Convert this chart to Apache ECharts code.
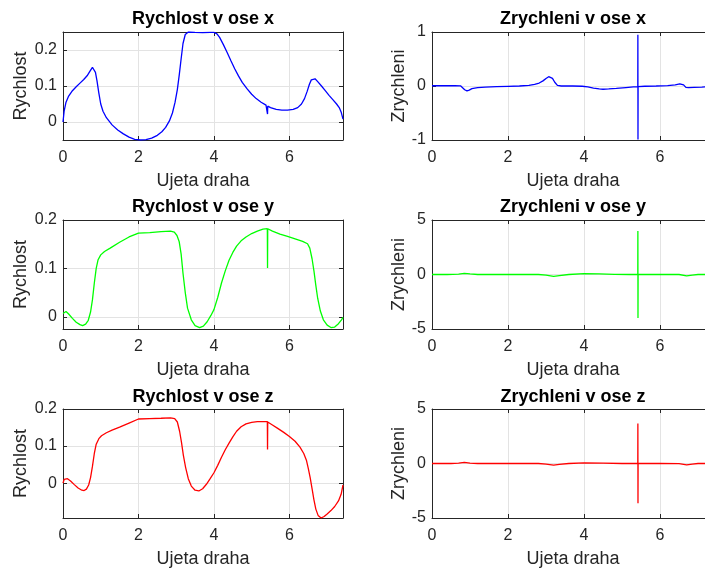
<!DOCTYPE html>
<html>
<head>
<meta charset="utf-8">
<script src="https://cdn.jsdelivr.net/npm/echarts@6/dist/echarts.min.js"></script>
<style>
  html, body { margin: 0; padding: 0; background: #ffffff; }
  #chart { width: 705px; height: 571px; }
</style>
</head>
<body>
<div id="chart"></div>
<script>
// Distance travelled vs. velocity / acceleration along each axis: [distance, value]
const rychlostX = [[0,0],[0.03,0.03],[0.08,0.055],[0.15,0.072],[0.25,0.087],[0.35,0.098],[0.45,0.108],[0.55,0.118],[0.65,0.13],[0.72,0.142],[0.78,0.152],[0.82,0.15],[0.86,0.138],[0.9,0.115],[0.95,0.08],[1.0,0.05],[1.06,0.03],[1.15,0.012],[1.3,-0.008],[1.45,-0.022],[1.6,-0.033],[1.75,-0.042],[1.9,-0.048],[2.05,-0.05],[2.2,-0.049],[2.35,-0.045],[2.5,-0.037],[2.62,-0.027],[2.72,-0.015],[2.82,0.003],[2.9,0.025],[2.97,0.055],[3.03,0.09],[3.08,0.13],[3.13,0.175],[3.18,0.218],[3.24,0.243],[3.32,0.25],[3.5,0.249],[3.7,0.248],[3.9,0.249],[4.0,0.249],[4.08,0.245],[4.15,0.235],[4.25,0.215],[4.35,0.193],[4.45,0.17],[4.55,0.148],[4.65,0.128],[4.75,0.11],[4.88,0.092],[5.0,0.077],[5.12,0.065],[5.25,0.055],[5.38,0.047],[5.415,0.045],[5.42,0.022],[5.425,0.044],[5.5,0.04],[5.65,0.035],[5.8,0.033],[5.95,0.033],[6.1,0.035],[6.22,0.04],[6.32,0.05],[6.4,0.065],[6.47,0.085],[6.53,0.105],[6.58,0.117],[6.63,0.122],[6.68,0.12],[6.75,0.112],[6.85,0.1],[6.95,0.087],[7.05,0.074],[7.15,0.062],[7.25,0.05],[7.32,0.04],[7.37,0.028],[7.42,0.008]];

const rychlostY = [[0,0.007],[0.04,0.011],[0.08,0.011],[0.15,0.006],[0.25,-0.003],[0.35,-0.011],[0.45,-0.016],[0.52,-0.018],[0.6,-0.015],[0.67,-0.007],[0.73,0.01],[0.78,0.035],[0.83,0.07],[0.88,0.1],[0.93,0.118],[1.0,0.128],[1.1,0.135],[1.25,0.142],[1.5,0.154],[1.75,0.165],[2.0,0.173],[2.3,0.174],[2.6,0.176],[2.85,0.177],[2.95,0.175],[3.02,0.168],[3.08,0.155],[3.13,0.13],[3.18,0.09],[3.24,0.05],[3.3,0.018],[3.4,-0.006],[3.5,-0.018],[3.62,-0.022],[3.72,-0.019],[3.82,-0.01],[3.92,0.003],[4.0,0.015],[4.1,0.04],[4.2,0.07],[4.3,0.095],[4.4,0.117],[4.5,0.133],[4.6,0.146],[4.72,0.157],[4.85,0.165],[5.0,0.172],[5.15,0.177],[5.3,0.181],[5.415,0.182],[5.42,0.101],[5.425,0.182],[5.55,0.177],[5.75,0.171],[5.95,0.166],[6.15,0.161],[6.35,0.156],[6.48,0.151],[6.54,0.142],[6.6,0.12],[6.65,0.095],[6.7,0.065],[6.75,0.038],[6.82,0.012],[6.9,-0.006],[7.0,-0.017],[7.1,-0.022],[7.2,-0.021],[7.3,-0.014],[7.38,-0.006],[7.42,-0.001]];

const rychlostZ = [[0,0],[0.03,0.01],[0.07,0.014],[0.12,0.012],[0.2,0.006],[0.3,-0.004],[0.4,-0.013],[0.5,-0.019],[0.56,-0.02],[0.62,-0.016],[0.68,-0.005],[0.73,0.015],[0.78,0.045],[0.83,0.08],[0.88,0.105],[0.95,0.12],[1.02,0.128],[1.15,0.136],[1.3,0.143],[1.5,0.151],[1.75,0.162],[2.0,0.173],[2.3,0.174],[2.6,0.175],[2.85,0.176],[2.96,0.174],[3.03,0.165],[3.09,0.14],[3.14,0.11],[3.19,0.075],[3.25,0.042],[3.32,0.012],[3.4,-0.008],[3.5,-0.019],[3.6,-0.021],[3.7,-0.015],[3.8,-0.003],[3.9,0.012],[4.0,0.028],[4.1,0.048],[4.2,0.07],[4.3,0.09],[4.4,0.108],[4.5,0.125],[4.6,0.14],[4.72,0.152],[4.85,0.16],[5.0,0.164],[5.15,0.166],[5.3,0.166],[5.415,0.166],[5.42,0.091],[5.425,0.165],[5.55,0.157],[5.7,0.147],[5.85,0.137],[6.0,0.126],[6.15,0.113],[6.28,0.097],[6.38,0.08],[6.45,0.062],[6.5,0.04],[6.55,0.015],[6.6,-0.015],[6.65,-0.045],[6.7,-0.07],[6.76,-0.087],[6.84,-0.094],[6.92,-0.09],[7.0,-0.083],[7.1,-0.074],[7.2,-0.063],[7.3,-0.048],[7.37,-0.03],[7.42,-0.005]];

const zrychleniX = [[0,0.005],[0.3,0.005],[0.6,0.005],[0.75,0.003],[0.8,-0.02],[0.86,-0.07],[0.92,-0.09],[0.98,-0.075],[1.05,-0.05],[1.2,-0.03],[1.4,-0.02],[1.7,-0.012],[2.0,-0.006],[2.3,0.0],[2.55,0.012],[2.7,0.03],[2.82,0.055],[2.92,0.095],[3.0,0.14],[3.07,0.172],[3.12,0.178],[3.17,0.14],[3.23,0.07],[3.3,0.01],[3.4,0.0],[3.7,0.0],[3.95,-0.005],[4.1,-0.018],[4.25,-0.038],[4.4,-0.055],[4.5,-0.06],[4.65,-0.055],[4.85,-0.045],[5.1,-0.03],[5.3,-0.018],[5.415,-0.012],[5.417,0.95],[5.42,-0.99],[5.423,-0.01],[5.6,-0.005],[5.9,0.0],[6.2,0.008],[6.4,0.02],[6.52,0.04],[6.57,0.045],[6.62,0.02],[6.68,-0.025],[6.75,-0.03],[6.9,-0.025],[7.1,-0.02],[7.3,-0.01],[7.42,-0.005]];

const zrychleniY = [[0,0],[0.4,0],[0.7,0.03],[0.85,0.1],[1.0,0.05],[1.2,0],[2.0,0],[2.8,0],[3.0,-0.05],[3.2,-0.18],[3.35,-0.1],[3.6,0],[4.0,0.08],[4.4,0.06],[4.8,0.02],[5.2,0],[5.415,0],[5.417,4.0],[5.42,-4.0],[5.423,0],[6.0,0],[6.5,0],[6.7,-0.12],[6.85,-0.05],[7.0,0],[7.42,0]];

const zrychleniZ = [[0,0],[0.5,0],[0.7,0.03],[0.85,0.1],[1.0,0.04],[1.2,0],[2.8,0],[3.0,-0.05],[3.2,-0.15],[3.35,-0.08],[3.6,0],[4.0,0.06],[4.5,0.04],[5.0,0],[5.415,0],[5.417,3.68],[5.42,-3.65],[5.423,0],[6.0,0],[6.5,-0.02],[6.7,-0.12],[6.85,-0.05],[7.0,0],[7.42,0]];

// Tick values and axis extents
const xTicks = [0, 2, 4, 6];
const xRange = [0, 7.42];
const velTicks = [0, 0.1, 0.2];
const accTicksX = [-1, 0, 1];
const accTicksYZ = [-5, 0, 5];
const velRangeX = [-0.05, 0.25];
const velRangeY = [-0.025, 0.2];
const velRangeZ = [-0.094, 0.2];
const accRangeX = [-1, 1];
const accRangeYZ = [-5, 5];

const titles = ['Rychlost v ose x', 'Zrychleni v ose x', 'Rychlost v ose y', 'Zrychleni v ose y', 'Rychlost v ose z', 'Zrychleni v ose z'];
const yNames = ['Rychlost', 'Zrychleni'];
const xName = 'Ujeta draha';

const panels = [
  { data: rychlostX, color: '#0000ff', range: velRangeX, ticks: velTicks, col: 0, row: 0 },
  { data: zrychleniX, color: '#0000ff', range: accRangeX, ticks: accTicksX, col: 1, row: 0 },
  { data: rychlostY, color: '#00ff00', range: velRangeY, ticks: velTicks, col: 0, row: 1 },
  { data: zrychleniY, color: '#00ff00', range: accRangeYZ, ticks: accTicksYZ, col: 1, row: 1 },
  { data: rychlostZ, color: '#ff0000', range: velRangeZ, ticks: velTicks, col: 0, row: 2 },
  { data: zrychleniZ, color: '#ff0000', range: accRangeYZ, ticks: accTicksYZ, col: 1, row: 2 }
];

// Layout of the 3x2 subplot grid (pixels); the right column runs past the page edge
const colLeft = [63, 432];
const colWidth = [280, 282];
const rowTop = [32, 220, 409];
const rowHeight = [108, 109, 109];
const titleTop = [10, 198, 388];
const yNameGap = [33, 24];

const FONT = '"Liberation Sans", Arial, Helvetica, sans-serif';
const AX = '#262626';
const GRIDC = '#e3e3e3';

const grids = [], xAxes = [], yAxes = [], series = [], titleOpts = [];

const axisLineStyle = () => ({ show: true, onZero: false, lineStyle: { color: AX, width: 1 } });
const tickStyle = (vals) => ({ show: true, inside: true, length: 4, customValues: vals, lineStyle: { color: AX } });

panels.forEach((p, i) => {
  grids.push({
    left: colLeft[p.col], top: rowTop[p.row], width: colWidth[p.col], height: rowHeight[p.row],
    containLabel: false, outerBoundsMode: 'none'
  });
  titleOpts.push({
    text: titles[i], left: colLeft[p.col] + colWidth[p.col] / 2, top: titleTop[p.row], textAlign: 'center', padding: 0,
    textStyle: { fontFamily: FONT, fontSize: 18, fontWeight: 'bold', color: '#000000' }
  });
  // bottom x axis
  xAxes.push({
    gridIndex: i, type: 'value', position: 'bottom', min: xRange[0], max: xRange[1],
    axisLine: axisLineStyle(),
    axisTick: tickStyle(xTicks),
    axisLabel: { show: true, customValues: xTicks, color: AX, fontSize: 16, fontFamily: FONT, margin: 10 },
    splitLine: { show: true, lineStyle: { color: GRIDC, width: 1 } },
    name: xName, nameLocation: 'middle', nameGap: 32,
    nameTextStyle: { fontFamily: FONT, fontSize: 18, color: AX }
  });
  // top x axis (box edge with mirrored ticks)
  xAxes.push({
    gridIndex: i, type: 'value', position: 'top', min: xRange[0], max: xRange[1],
    axisLine: axisLineStyle(),
    axisTick: tickStyle(xTicks),
    axisLabel: { show: false }, splitLine: { show: false }
  });
  // left y axis
  yAxes.push({
    gridIndex: i, type: 'value', position: 'left', min: p.range[0], max: p.range[1],
    axisLine: axisLineStyle(),
    axisTick: tickStyle(p.ticks),
    axisLabel: { show: true, customValues: p.ticks, color: AX, fontSize: 16, fontFamily: FONT, margin: 6 },
    splitLine: { show: true, lineStyle: { color: GRIDC, width: 1 } },
    name: yNames[p.col], nameLocation: 'middle', nameGap: yNameGap[p.col], nameRotate: 90,
    nameTextStyle: { fontFamily: FONT, fontSize: 18, color: AX }
  });
  // right y axis (box edge with mirrored ticks)
  yAxes.push({
    gridIndex: i, type: 'value', position: 'right', min: p.range[0], max: p.range[1],
    axisLine: axisLineStyle(),
    axisTick: tickStyle(p.ticks),
    axisLabel: { show: false }, splitLine: { show: false }
  });
  series.push({
    type: 'line', xAxisIndex: 2 * i, yAxisIndex: 2 * i, data: p.data,
    showSymbol: false, symbol: 'none', smooth: false, clip: true,
    lineStyle: { color: p.color, width: 1.3 }, itemStyle: { color: p.color },
    z: 3
  });
});

const chart = echarts.init(document.getElementById('chart'), null, { renderer: 'canvas' });
chart.setOption({
  animation: false,
  backgroundColor: '#ffffff',
  title: titleOpts,
  grid: grids,
  xAxis: xAxes,
  yAxis: yAxes,
  series: series
});
</script>
</body>
</html>
